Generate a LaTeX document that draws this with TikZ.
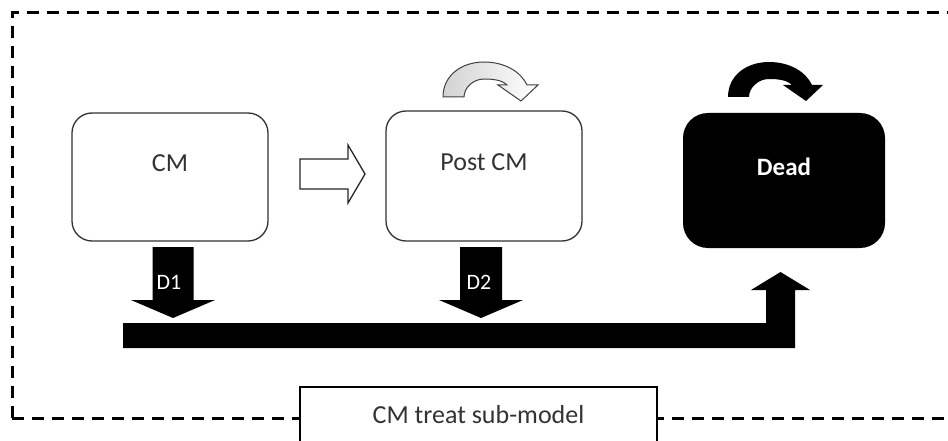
\documentclass[tikz,border=0pt]{standalone}
\usepackage{fontspec}
\setmainfont{Carlito}
\usetikzlibrary{shadings}
\begin{document}
\begin{tikzpicture}[x=1pt,y=-1pt,
  statebox/.style={draw=black!80, line width=1.3pt, fill=white, rounded corners=20pt,
    inner sep=0pt},
  deadbox/.style={fill=black, rounded corners=25pt, inner sep=0pt},
  boxtext/.style={text=black!80, font=\fontsize{26}{30}\selectfont, inner sep=0pt},
  arrowtext/.style={text=white, font=\fontsize{22}{26}\selectfont, inner sep=0pt},
  blockarrow/.style={fill=black},
  hollowarrow/.style={draw=black!85, line width=1.3pt, fill=white, line join=miter},
  framedash/.style={line width=3pt, dash pattern=on 12pt off 8pt},
  loopmark/.pic={
    \path[pic actions] (0,0) .. controls (0,-22) and (19,-35) .. (41,-35)
      .. controls (62,-35) and (78,-25) .. (84,-12)
      -- (95,-12) -- (78,4) -- (55,-12) -- (64,-12)
      .. controls (59,-17) and (50,-18) .. (41,-18)
      .. controls (30,-18) and (21,-9) .. (21,0) -- cycle;
  }]
\clip (0,0) rectangle (948,441);
\useasboundingbox (0,0) rectangle (948,441);
\fill[white] (0,0) rectangle (948,441);

% sub-model frame (its right side runs off the page)
\draw[framedash] (12,418) -- (12,13) -- (990,13);
\draw[framedash] (12,418) -- (990,418);

% states
\node[statebox, minimum width=196pt, minimum height=128pt] (cm) at (170,177) {};
\node[boxtext] (cmtext) at (170,163) {CM};
\node[statebox, minimum width=196pt, minimum height=130pt] (post) at (484,176) {};
\node[boxtext] (posttext) at (484,162) {Post CM};
\node[deadbox, minimum width=202pt, minimum height=135pt] (dead) at (784,180.5) {};
\node[text=white, font=\bfseries\fontsize{25}{30}\selectfont, inner sep=0pt] (deadtext) at (784,167) {Dead};

% self transitions
\pic[draw=black!75, line width=1pt, left color=gray!35, right color=white] at (443,97) {loopmark};
\pic[fill=black] at (728,97) {loopmark};

% CM -> Post CM
\path[hollowarrow] (300,159) -- (348,159) -- (348,145) -- (365,174) -- (348,203)
  -- (348,189) -- (300,189) -- cycle;

% deaths from CM and Post CM
\path[blockarrow] (152.5,247) -- (193.5,247) -- (193.5,300) -- (215,300) -- (173,318)
  -- (131,300) -- (152.5,300) -- cycle;
\node[arrowtext] (d1) at (169,282) {D1};
\path[blockarrow] (460,247) -- (502,247) -- (502,300) -- (523,300) -- (481,318)
  -- (439,300) -- (460,300) -- cycle;
\node[arrowtext] (d2) at (479,282) {D2};

% collecting bar up to Dead
\path[blockarrow] (123,323) -- (766,323) -- (766,290) -- (751,290) -- (780.5,272)
  -- (810,290) -- (795,290) -- (795,348) -- (123,348) -- cycle;

% title tab
\node[draw=black, line width=2pt, fill=white, minimum width=357pt, minimum height=80pt,
  anchor=north, inner sep=0pt] (tab) at (478.5,386) {};
\node[boxtext] (title) at (478.5,415) {CM treat sub-model};
\end{tikzpicture}
\end{document}
